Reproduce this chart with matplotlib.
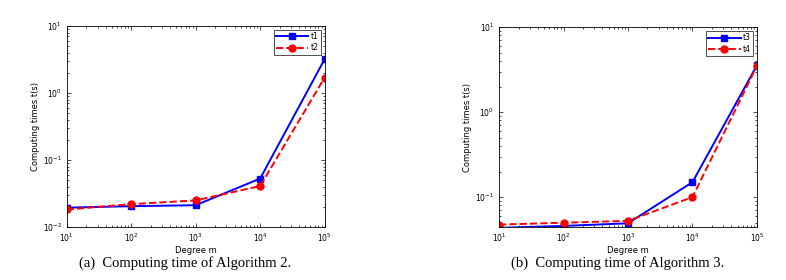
import matplotlib.pyplot as plt

degree = [1e1, 1e2, 1e3, 1e4, 1e5]

t1 = [0.0195, 0.0205, 0.0212, 0.053, 3.2]
t2 = [0.0183, 0.0220, 0.0250, 0.041, 1.7]
t3 = [0.0435, 0.0458, 0.0492, 0.150, 3.55]
t4 = [0.0475, 0.0500, 0.0525, 0.100, 3.5]

captions = ['(a)  Computing time of Algorithm 2.', '(b)  Computing time of Algorithm 3.']
ylims = [(1e-2, 1e1), (0.0444, 1e1)]


def draw(ax, a, b, names, ylim, caption):
    ax.plot(degree, a, '-', color='#0000ff', lw=1.4, marker='s', ms=4, label=names[0])
    ax.plot(degree, b, '--', color='#ff0000', lw=1.4, marker='o', ms=5, label=names[1])
    ax.set_xscale('log')
    ax.set_yscale('log')
    ax.set_xlim(1e1, 1e5)
    ax.set_ylim(*ylim)
    ax.tick_params(which='both', direction='in', top=True, right=True, labelsize=5.5, width=0.5)
    ax.tick_params(which='major', length=3)
    ax.tick_params(which='minor', length=1.5)
    for s in ax.spines.values():
        s.set_linewidth(0.6)
    ax.set_xlabel('Degree m', fontsize=6, labelpad=1)
    ax.set_ylabel('Computing times t(s)', fontsize=6, labelpad=2)
    leg = ax.legend(loc='upper right', fontsize=5.5, fancybox=False, edgecolor='black',
                    handlelength=4.2, borderpad=0.3, labelspacing=0.3, handletextpad=0.3)
    leg.get_frame().set_linewidth(0.6)
    ax.text(0.46, -0.18, caption, transform=ax.transAxes, ha='center', va='center',
            fontsize=10.5, family='Liberation Serif')


fig = plt.figure(figsize=(7.86, 2.8), dpi=100)
ax1 = fig.add_axes([0.085, 0.189, 0.328, 0.718])
ax2 = fig.add_axes([0.635, 0.189, 0.328, 0.714])
draw(ax1, t1, t2, ['t1', 't2'], ylims[0], captions[0])
draw(ax2, t3, t4, ['t3', 't4'], ylims[1], captions[1])
fig.savefig('out.png', dpi=100)
